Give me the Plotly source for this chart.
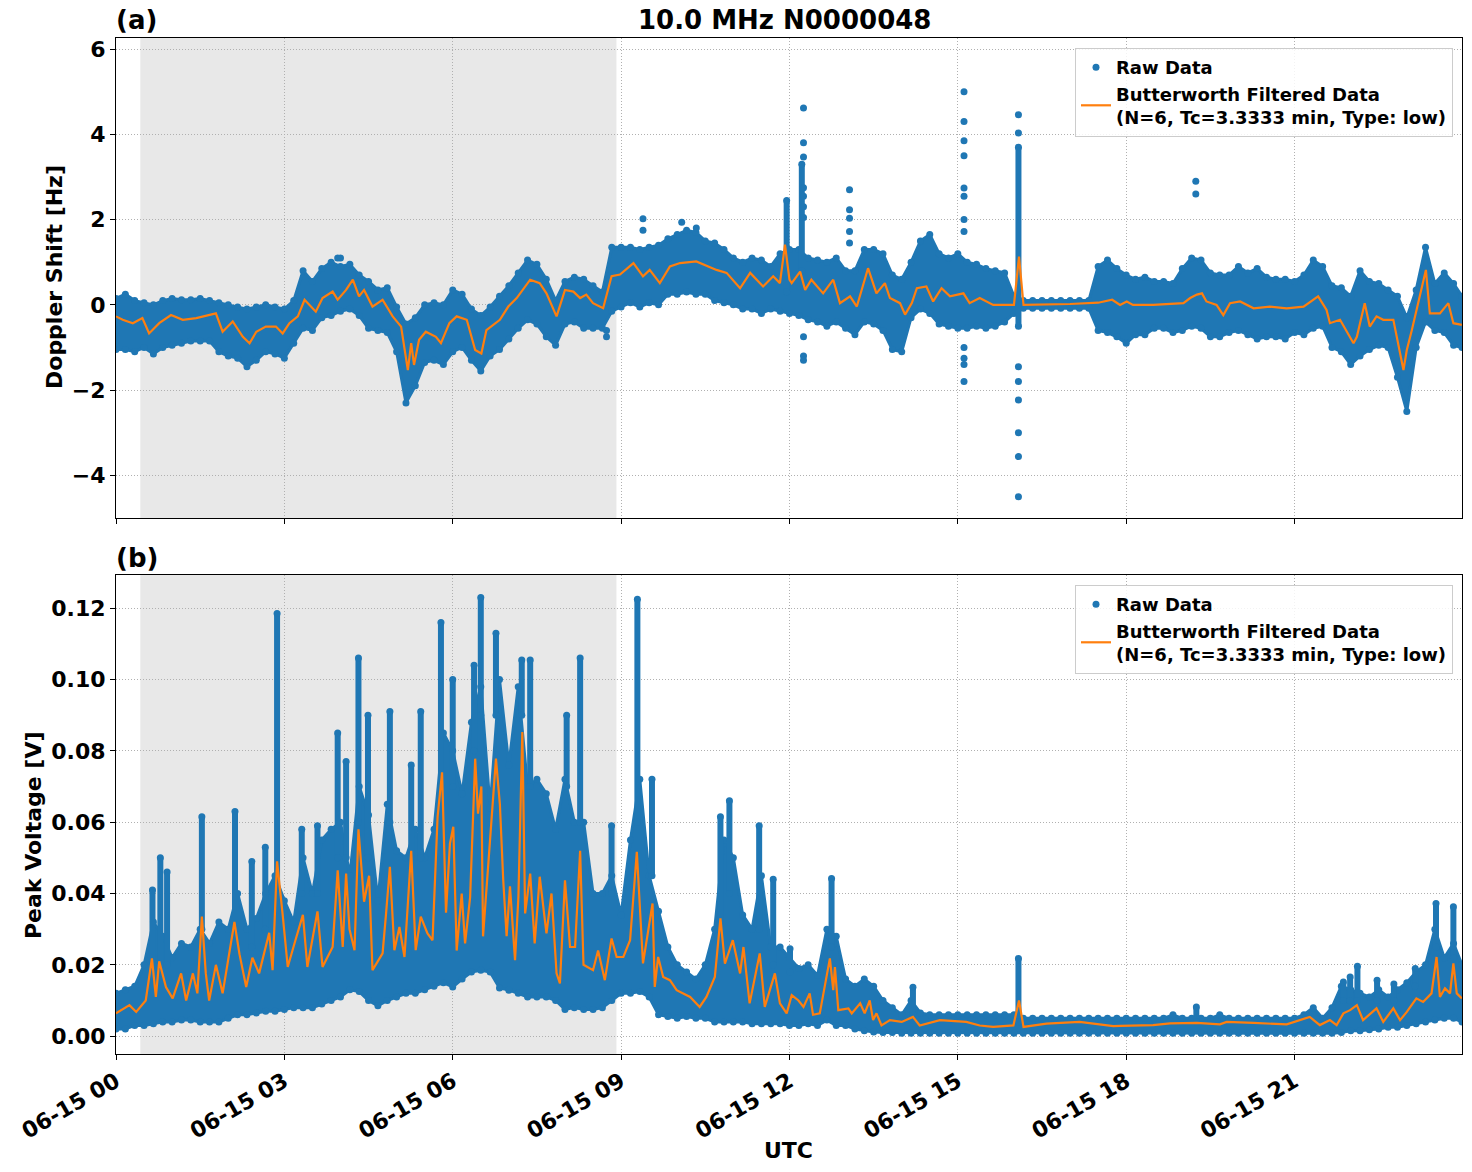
import numpy as np
import pandas as pd
import plotly.graph_objects as go

# ---------------- data ----------------
DATE = "2024-06-15"
TITLE = "10.0 MHz N0000048"
SHADE_START = "2024-06-15 00:26"
SHADE_END = "2024-06-15 08:55"
X_END = "2024-06-15 23:59"

# 10-minute sampling grid for the envelope of the raw data
band_times = list(pd.date_range(DATE, periods=144, freq="10min")) + [pd.Timestamp(X_END)]

# ---- panel (a): Doppler shift [Hz]
a_hi = [0.15, 0.25, 0.10, 0.05, 0.00, 0.10, 0.15, 0.12, 0.12, 0.15, 0.10, 0.05,
        0.00, -0.05, -0.10, -0.05, 0.00, -0.05, -0.10, 0.10, 0.80, 0.55, 0.85, 1.00,
        0.90, 0.95, 0.70, 0.55, 0.35, 0.40, -0.05, -0.45, -0.30, 0.00, 0.05, 0.00,
        0.35, 0.25, -0.10, -0.25, -0.05, 0.20, 0.45, 0.75, 1.05, 0.95, 0.60, 0.10,
        0.55, 0.65, 0.60, 0.45, 0.30, 1.35, 1.35, 1.35, 1.30, 1.35, 1.40, 1.55,
        1.65, 1.75, 1.70, 1.50, 1.45, 1.30, 1.10, 1.00, 1.10, 1.05, 0.90, 1.20,
        1.30, 1.30, 1.10, 1.05, 1.00, 1.10, 0.80, 0.80, 1.30, 1.30, 1.20, 0.70,
        0.60, 1.00, 1.50, 1.65, 1.20, 1.10, 1.20, 1.00, 0.95, 0.85, 0.80, 0.75,
        0.20, 0.10, 0.10, 0.10, 0.10, 0.10, 0.10, 0.10, 0.10, 0.90, 1.05, 0.85,
        0.70, 0.60, 0.65, 0.55, 0.55, 0.50, 0.85, 1.10, 1.05, 0.75, 0.70, 0.70,
        0.90, 0.75, 0.85, 0.65, 0.60, 0.60, 0.55, 0.70, 1.05, 0.90, 0.45, 0.40,
        0.20, 0.80, 0.55, 0.50, 0.35, 0.20, -0.30, 0.35, 1.35, 0.50, 0.75, 0.50,
        0.20]
a_lo = [-1.05, -1.05, -1.10, -1.00, -1.15, -1.00, -0.95, -0.90, -0.85, -0.85, -0.85, -1.10,
        -1.20, -1.25, -1.45, -1.30, -1.10, -1.15, -1.25, -0.90, -0.55, -0.60, -0.30, -0.25,
        -0.15, -0.10, -0.25, -0.55, -0.60, -0.65, -1.10, -2.30, -1.90, -1.35, -1.30, -1.40,
        -1.10, -1.00, -1.30, -1.55, -1.20, -1.05, -0.80, -0.55, -0.35, -0.45, -0.75, -0.95,
        -0.45, -0.40, -0.55, -0.55, -0.55, -0.15, -0.05, 0.05, -0.05, 0.05, 0.00, 0.25,
        0.25, 0.30, 0.25, 0.25, 0.10, 0.05, 0.00, -0.10, -0.10, -0.20, -0.10, -0.15,
        -0.20, -0.25, -0.35, -0.40, -0.50, -0.40, -0.55, -0.70, -0.40, -0.45, -0.60, -1.05,
        -1.10, -0.30, -0.10, -0.20, -0.45, -0.50, -0.55, -0.55, -0.50, -0.55, -0.50, -0.40,
        -0.20, -0.08, -0.08, -0.08, -0.08, -0.08, -0.08, -0.08, -0.08, -0.60, -0.65, -0.75,
        -0.90, -0.70, -0.70, -0.55, -0.55, -0.65, -0.60, -0.50, -0.55, -0.75, -0.75, -0.65,
        -0.60, -0.70, -0.80, -0.75, -0.75, -0.80, -0.65, -0.70, -0.55, -0.50, -1.00, -1.10,
        -1.40, -1.20, -1.05, -0.95, -1.00, -1.70, -2.50, -1.00, -0.40, -0.60, -0.65, -0.95,
        -1.00]
# dense vertical columns of raw points: hour, bottom, top
a_spike_h = [11.95, 12.22, 16.08]
a_spike_lo = [0.30, 0.80, -0.50]
a_spike_hi = [2.45, 3.30, 3.70]
# isolated raw points: hour, value
a_out_h = [12.25, 12.25, 12.25, 12.25, 12.25, 12.25, 12.25, 12.25, 12.25, 12.25,
           13.07, 13.07, 13.07, 13.07, 13.07,
           15.11, 15.11, 15.11, 15.11, 15.11, 15.11, 15.11, 15.11, 15.11, 15.11, 15.11, 15.11,
           16.08, 16.08, 16.08, 16.08, 16.08, 16.08, 16.08, 16.08,
           19.24, 19.24, 9.39, 9.39, 10.08, 10.34, 3.95, 4.00, 8.74, 8.74]
a_out_v = [4.62, 3.80, 3.47, 2.75, 2.55, 2.30, 2.05, -0.75, -1.20, -1.30,
           2.70, 2.23, 2.03, 1.72, 1.45,
           5.00, 4.30, 3.85, 3.50, 2.74, 2.55, 2.00, 1.72, -1.00, -1.25, -1.40, -1.80,
           4.46, 4.03, -1.45, -1.80, -2.23, -3.00, -3.56, -4.50,
           2.90, 2.60, 2.02, 1.75, 1.94, 1.80, 1.10, 1.10, -0.75, -0.60]
# Butterworth filtered curve: hour, value
a_filt_h = [0.00, 0.12, 0.30, 0.47, 0.59, 0.77, 0.98, 1.19, 1.43, 1.57, 1.78, 1.90, 2.08,
            2.26, 2.38, 2.50, 2.67, 2.85, 2.97, 3.09, 3.24, 3.36, 3.56, 3.68, 3.86, 3.95,
            4.10, 4.22, 4.33, 4.42, 4.57, 4.75, 4.93, 5.08, 5.20, 5.26, 5.31, 5.40, 5.52,
            5.70, 5.79, 5.94, 6.07, 6.25, 6.40, 6.51, 6.60, 6.84, 6.99, 7.14, 7.38, 7.55,
            7.67, 7.85, 8.00, 8.15, 8.27, 8.38, 8.50, 8.68, 8.83, 8.98, 9.22, 9.39, 9.51,
            9.69, 9.87, 10.05, 10.34, 10.70, 10.88, 11.12, 11.30, 11.53, 11.71, 11.83,
            11.92, 12.00, 12.04, 12.19, 12.28, 12.39, 12.60, 12.78, 12.90, 13.08, 13.20,
            13.40, 13.55, 13.70, 13.79, 13.97, 14.06, 14.18, 14.27, 14.44, 14.56, 14.71,
            14.86, 15.10, 15.21, 15.39, 15.63, 16.00, 16.09, 16.17, 17.00, 17.50, 17.75,
            17.89, 18.01, 18.12, 18.48, 19.02, 19.14, 19.26, 19.35, 19.43, 19.61, 19.73,
            19.85, 20.03, 20.27, 20.56, 20.86, 21.16, 21.42, 21.57, 21.63, 21.81, 22.05,
            22.11, 22.25, 22.34, 22.46, 22.58, 22.76, 22.94, 23.00, 23.09, 23.24, 23.34,
            23.41, 23.59, 23.74, 23.83, 23.98]
a_filt_v = [-0.27, -0.35, -0.43, -0.31, -0.67, -0.43, -0.24, -0.35, -0.31, -0.27, -0.20, -0.63, -0.39,
            -0.75, -0.90, -0.63, -0.51, -0.51, -0.67, -0.43, -0.27, 0.12, -0.16, 0.16, 0.31, 0.12,
            0.35, 0.59, 0.20, 0.35, -0.04, 0.12, -0.27, -0.51, -1.53, -0.90, -1.41, -0.82, -0.63,
            -0.75, -0.90, -0.43, -0.27, -0.35, -1.06, -1.14, -0.59, -0.35, -0.04, 0.16, 0.59, 0.51,
            0.27, -0.27, 0.35, 0.31, 0.16, 0.24, 0.04, -0.08, 0.67, 0.71, 0.98, 0.67, 0.82,
            0.51, 0.90, 0.98, 1.02, 0.82, 0.75, 0.39, 0.75, 0.43, 0.67, 0.51,
            1.41, 0.59, 0.51, 0.78, 0.35, 0.59, 0.27, 0.59, 0.04, 0.20, -0.04,
            0.86, 0.27, 0.51, 0.16, 0.04, -0.23, 0.04, 0.39, 0.43, 0.08, 0.39,
            0.20, 0.27, 0.04, 0.16, 0.00, 0.00, 1.13, 0.00, 0.02, 0.05, 0.12,
            0.00, 0.08, 0.00, 0.00, 0.04, 0.16, 0.24, 0.27, 0.08, 0.00, -0.24,
            0.04, 0.08, -0.08, -0.04, -0.08, -0.04, 0.20, -0.12, -0.43, -0.35, -0.90,
            -0.75, 0.04, -0.51, -0.27, -0.35, -0.35, -1.53, -1.06, -0.59, 0.27, 0.82,
            -0.20, -0.20, 0.04, -0.43, -0.47]

# ---- panel (b): peak voltage [V]
b_hi = [0.012, 0.013, 0.014, 0.020, 0.032, 0.028, 0.022, 0.026, 0.025, 0.030, 0.026, 0.032,
        0.030, 0.040, 0.030, 0.033, 0.040, 0.045, 0.038, 0.032, 0.050, 0.040, 0.055, 0.058,
        0.060, 0.045, 0.070, 0.062, 0.038, 0.065, 0.052, 0.050, 0.058, 0.050, 0.058, 0.085,
        0.080, 0.068, 0.088, 0.098, 0.064, 0.100, 0.076, 0.098, 0.070, 0.072, 0.068, 0.058,
        0.072, 0.060, 0.060, 0.040, 0.040, 0.045, 0.034, 0.055, 0.072, 0.045, 0.035, 0.025,
        0.020, 0.018, 0.016, 0.020, 0.030, 0.055, 0.050, 0.034, 0.030, 0.045, 0.025, 0.025,
        0.022, 0.019, 0.020, 0.017, 0.030, 0.028, 0.016, 0.014, 0.016, 0.014, 0.010, 0.008,
        0.006, 0.010, 0.0065, 0.006, 0.006, 0.006, 0.006, 0.006, 0.006, 0.006, 0.006, 0.006,
        0.006, 0.005, 0.005, 0.005, 0.005, 0.005, 0.005, 0.005, 0.005, 0.005, 0.005, 0.005,
        0.005, 0.005, 0.005, 0.005, 0.005, 0.006, 0.005, 0.005, 0.005, 0.005, 0.006, 0.005,
        0.005, 0.005, 0.005, 0.005, 0.005, 0.005, 0.005, 0.006, 0.008, 0.005, 0.008, 0.014,
        0.013, 0.012, 0.011, 0.013, 0.011, 0.013, 0.015, 0.018, 0.020, 0.030, 0.022, 0.026,
        0.020]
b_lo = [0.002, 0.002, 0.003, 0.003, 0.0035, 0.004, 0.004, 0.0045, 0.0045, 0.004, 0.004, 0.004,
        0.005, 0.006, 0.006, 0.0065, 0.007, 0.007, 0.0075, 0.008, 0.008, 0.008, 0.009, 0.010,
        0.011, 0.013, 0.0125, 0.010, 0.0085, 0.010, 0.011, 0.012, 0.012, 0.013, 0.014, 0.015,
        0.0138, 0.016, 0.018, 0.0185, 0.018, 0.0135, 0.0129, 0.012, 0.011, 0.011, 0.011, 0.010,
        0.0075, 0.008, 0.0075, 0.0075, 0.008, 0.010, 0.012, 0.012, 0.0125, 0.011, 0.006, 0.0055,
        0.005, 0.0055, 0.005, 0.005, 0.004, 0.004, 0.004, 0.004, 0.0035, 0.0035, 0.0035, 0.0035,
        0.003, 0.003, 0.0035, 0.003, 0.0045, 0.003, 0.003, 0.002, 0.0015, 0.0012, 0.001, 0.001,
        0.0008, 0.0008, 0.0008, 0.0008, 0.0008, 0.0008, 0.0008, 0.0008, 0.0008, 0.0008, 0.0008, 0.0008,
        0.0008, 0.0008, 0.0008, 0.0008, 0.0008, 0.0008, 0.0008, 0.0008, 0.0008, 0.0008, 0.0008, 0.0008,
        0.0008, 0.0008, 0.0008, 0.0008, 0.0008, 0.0008, 0.0008, 0.0008, 0.0008, 0.0008, 0.0008, 0.0008,
        0.0008, 0.0008, 0.0008, 0.0008, 0.0008, 0.0008, 0.0008, 0.0008, 0.0008, 0.0008, 0.0008, 0.001,
        0.0015, 0.0015, 0.0018, 0.002, 0.0025, 0.0025, 0.003, 0.0035, 0.004, 0.0045, 0.005, 0.005,
        0.004]
b_spike_h = [0.65, 0.79, 0.91, 1.53, 2.12, 2.42, 2.66, 2.87, 3.31, 3.59, 3.95, 4.10, 4.32,
             4.49, 4.88, 5.26, 5.43, 5.79, 6.00, 6.38, 6.50, 6.77, 7.23, 7.38, 8.03, 8.27,
             8.83, 9.29, 9.55, 10.77, 10.93, 11.46, 11.71, 12.01, 12.75, 14.20, 16.08,
             19.25, 21.87, 21.99, 22.12, 22.47, 22.77, 23.15, 23.52, 23.83]
b_spike_lo = [0.020, 0.020, 0.020, 0.030, 0.030, 0.025, 0.030, 0.040, 0.040, 0.040, 0.050, 0.050, 0.060,
              0.050, 0.060, 0.050, 0.050, 0.070, 0.070, 0.080, 0.090, 0.090, 0.090, 0.070, 0.070, 0.060,
              0.040, 0.060, 0.045, 0.030, 0.040, 0.030, 0.020, 0.018, 0.025, 0.006, 0.004,
              0.004, 0.010, 0.010, 0.010, 0.010, 0.010, 0.014, 0.025, 0.022]
b_spike_hi = [0.041, 0.050, 0.046, 0.0615, 0.063, 0.049, 0.053, 0.1185, 0.058, 0.059, 0.085, 0.077, 0.106,
              0.090, 0.091, 0.076, 0.091, 0.116, 0.100, 0.104, 0.123, 0.113, 0.1055, 0.1055, 0.090, 0.106,
              0.059, 0.1225, 0.072, 0.0615, 0.066, 0.059, 0.044, 0.0245, 0.0442, 0.0137, 0.0218,
              0.0082, 0.0152, 0.0166, 0.0196, 0.0157, 0.0146, 0.019, 0.0372, 0.0363]
b_filt_h = [0.00, 0.24, 0.36, 0.53, 0.64, 0.71, 0.77, 0.89, 1.01, 1.16, 1.25, 1.37, 1.45, 1.53,
            1.60, 1.66, 1.78, 1.90, 2.11, 2.20, 2.32, 2.43, 2.55, 2.73, 2.79, 2.87, 2.97, 3.06,
            3.18, 3.33, 3.41, 3.59, 3.68, 3.86, 3.95, 4.04, 4.10, 4.16, 4.25, 4.32, 4.42, 4.51,
            4.57, 4.75, 4.81, 4.88, 4.96, 5.05, 5.14, 5.26, 5.34, 5.43, 5.55, 5.64, 5.73, 5.81,
            5.88, 5.95, 6.01, 6.07, 6.16, 6.22, 6.31, 6.40, 6.45, 6.51, 6.54, 6.66, 6.77, 6.84,
            6.90, 6.96, 7.02, 7.11, 7.17, 7.24, 7.29, 7.38, 7.46, 7.55, 7.67, 7.76, 7.85, 7.91,
            8.00, 8.09, 8.18, 8.27, 8.33, 8.50, 8.59, 8.71, 8.83, 8.92, 9.04, 9.16, 9.28, 9.39,
            9.56, 9.60, 9.66, 9.75, 9.87, 9.99, 10.23, 10.40, 10.52, 10.67, 10.77, 10.85, 10.99,
            11.12, 11.18, 11.29, 11.47, 11.56, 11.74, 11.83, 11.95, 12.04, 12.16, 12.25, 12.36,
            12.42, 12.54, 12.72, 12.78, 12.81, 12.87, 13.05, 13.11, 13.26, 13.34, 13.43, 13.49,
            13.55, 13.64, 13.79, 14.00, 14.20, 14.32, 14.68, 15.15, 15.39, 15.63, 15.99, 16.09,
            16.17, 16.58, 17.17, 17.77, 17.89, 18.48, 18.78, 19.26, 19.67, 19.79, 20.27, 20.86,
            21.27, 21.45, 21.63, 21.75, 21.87, 21.99, 22.11, 22.22, 22.46, 22.58, 22.76, 22.88,
            23.00, 23.17, 23.29, 23.44, 23.53, 23.59, 23.68, 23.77, 23.83, 23.89, 23.98]
b_filt_v = [0.0064, 0.0087, 0.0068, 0.0100, 0.0218, 0.0110, 0.0210, 0.0138, 0.0106, 0.0176, 0.0100, 0.0176, 0.0120, 0.0335,
            0.0176, 0.0100, 0.0200, 0.0120, 0.0320, 0.0230, 0.0138, 0.0220, 0.0176, 0.0290, 0.0185, 0.0490, 0.0340, 0.0194,
            0.0260, 0.0340, 0.0194, 0.0350, 0.0194, 0.0250, 0.0465, 0.0250, 0.0456, 0.0300, 0.0241, 0.0580, 0.0377, 0.0450,
            0.0185, 0.0232, 0.0340, 0.0475, 0.0241, 0.0306, 0.0222, 0.0520, 0.0241, 0.0335, 0.0288, 0.0269, 0.0615, 0.0740,
            0.0346, 0.0540, 0.0587, 0.0240, 0.0400, 0.0260, 0.0390, 0.0778, 0.0624, 0.0700, 0.0280, 0.0540, 0.0778, 0.0650,
            0.0437, 0.0280, 0.0420, 0.0213, 0.0390, 0.0853, 0.0344, 0.0456, 0.0260, 0.0447, 0.0288, 0.0400, 0.0176, 0.0148,
            0.0437, 0.0250, 0.0250, 0.0520, 0.0200, 0.0185, 0.0240, 0.0157, 0.0274, 0.0222, 0.0222, 0.0269, 0.0517, 0.0204,
            0.0372, 0.0138, 0.0222, 0.0166, 0.0157, 0.0129, 0.0110, 0.0082, 0.0110, 0.0166, 0.0330, 0.0203, 0.0269,
            0.0176, 0.0250, 0.0092, 0.0232, 0.0082, 0.0176, 0.0092, 0.0064, 0.0115, 0.0100, 0.0082, 0.0120,
            0.0060, 0.0064, 0.0218, 0.0129, 0.0194, 0.0073, 0.0078, 0.0064, 0.0092, 0.0064, 0.0100, 0.0045,
            0.0064, 0.0030, 0.0045, 0.0040, 0.0054, 0.0030, 0.0045, 0.0040, 0.0030, 0.0026, 0.0030, 0.0100,
            0.0026, 0.0035, 0.0040, 0.0028, 0.0029, 0.0031, 0.0036, 0.0037, 0.0033, 0.0040, 0.0037, 0.0033,
            0.0054, 0.0031, 0.0045, 0.0031, 0.0064, 0.0073, 0.0087, 0.0045, 0.0078, 0.0040, 0.0078, 0.0045,
            0.0068, 0.0106, 0.0096, 0.0120, 0.0222, 0.0110, 0.0134, 0.0120, 0.0204, 0.0120, 0.0106]

# ---------------- styling ----------------
BLUE = "#1f77b4"
ORANGE = "#ff7f0e"
FONT = "DejaVu Sans"
W, H = 1472, 1172
X_DOM = [116 / W, 1462 / W]
YA_DOM = [1 - 518 / H, 1 - 38 / H]
YB_DOM = [1 - 1054 / H, 1 - 575 / H]


def hours_to_time(h):
    return list(pd.Timestamp(DATE) + pd.to_timedelta(np.asarray(h, dtype=float), unit="h"))


def segments(hs, lo, hi):
    xs, ys = [], []
    for t, a, b in zip(hours_to_time(hs), lo, hi):
        xs += [t, t, None]
        ys += [a, b, None]
    return xs, ys


fig = go.Figure()
dot = dict(color=BLUE, size=7, line=dict(width=0))


def add_panel(xa, ya, legend, hi, lo, sp_h, sp_lo, sp_hi, out_h, out_v, f_h, f_v):
    # raw data envelope
    fig.add_trace(go.Scatter(
        x=band_times + band_times[::-1], y=list(hi) + list(lo)[::-1],
        fill="toself", fillcolor=BLUE, mode="lines",
        line=dict(color=BLUE, width=3), hoverinfo="skip",
        showlegend=False, xaxis=xa, yaxis=ya))
    # raw points on the envelope edges
    fig.add_trace(go.Scatter(x=band_times + band_times, y=list(hi) + list(lo),
                             mode="markers", marker=dot, showlegend=False,
                             hoverinfo="skip", xaxis=xa, yaxis=ya))
    # dense columns of raw points
    sx, sy = segments(sp_h, sp_lo, sp_hi)
    fig.add_trace(go.Scatter(x=sx, y=sy, mode="lines", line=dict(color=BLUE, width=6),
                             showlegend=False, hoverinfo="skip", xaxis=xa, yaxis=ya))
    fig.add_trace(go.Scatter(x=hours_to_time(sp_h) * 2, y=list(sp_hi) + list(sp_lo),
                             mode="markers", marker=dot,
                             showlegend=False, hoverinfo="skip", xaxis=xa, yaxis=ya))
    if out_h:
        fig.add_trace(go.Scatter(x=hours_to_time(out_h), y=out_v, mode="markers",
                                 marker=dot, showlegend=False, hoverinfo="skip",
                                 xaxis=xa, yaxis=ya))
    # legend entries
    fig.add_trace(go.Scatter(x=[None], y=[None], mode="markers", name="Raw Data",
                             marker=dict(color=BLUE, size=7), legend=legend,
                             xaxis=xa, yaxis=ya))
    fig.add_trace(go.Scatter(x=hours_to_time(f_h), y=f_v, mode="lines",
                             name="Butterworth Filtered Data<br>(N=6, Tc=3.3333 min, Type: low)",
                             line=dict(color=ORANGE, width=2.2), legend=legend,
                             xaxis=xa, yaxis=ya))


add_panel("x", "y", "legend", a_hi, a_lo, a_spike_h, a_spike_lo, a_spike_hi,
          a_out_h, a_out_v, a_filt_h, a_filt_v)
add_panel("x2", "y2", "legend2", b_hi, b_lo, b_spike_h, b_spike_lo, b_spike_hi,
          [], [], b_filt_h, b_filt_v)

tickfont = dict(family=FONT, size=22, color="black", weight="bold")
axis_common = dict(
    showline=True, linecolor="black", linewidth=1.2, mirror=True,
    ticks="outside", ticklen=5, tickwidth=1.2, tickcolor="black",
    showgrid=True, gridcolor="#b0b0b0", griddash="1px,2px", gridwidth=1,
    zeroline=False, tickfont=tickfont, automargin=False,
)
xcommon = dict(axis_common, type="date", domain=X_DOM,
               range=[pd.Timestamp(DATE), pd.Timestamp(X_END)],
               tick0=DATE, dtick=3 * 3600 * 1000, tickformat="%m-%d %H")

legend_common = dict(xanchor="right", yanchor="top",
                     bgcolor="rgba(255,255,255,0.85)", bordercolor="#cccccc", borderwidth=1,
                     font=dict(family=FONT, size=18, color="black", weight="bold"),
                     tracegroupgap=2)

fig.update_layout(
    width=W, height=H,
    margin=dict(l=0, r=0, t=0, b=0),
    paper_bgcolor="white", plot_bgcolor="white",
    font=dict(family=FONT, color="black"),
    xaxis=dict(xcommon, anchor="y", showticklabels=False),
    xaxis2=dict(xcommon, anchor="y2", tickangle=-30),
    yaxis=dict(axis_common, domain=YA_DOM, anchor="x", range=[-5.0, 6.26],
               tickvals=[-4, -2, 0, 2, 4, 6]),
    yaxis2=dict(axis_common, domain=YB_DOM, anchor="x2", range=[-0.005, 0.1293],
                tickvals=[0, 0.02, 0.04, 0.06, 0.08, 0.10, 0.12], tickformat=".2f"),
    legend=dict(legend_common, x=1453 / W, y=1 - 48 / H),
    legend2=dict(legend_common, x=1453 / W, y=1 - 585 / H),
    showlegend=True,
)

for xr, yref in [("x", "y domain"), ("x2", "y2 domain")]:
    fig.add_shape(type="rect", xref=xr, yref=yref,
                  x0=SHADE_START, x1=SHADE_END, y0=0, y1=1,
                  fillcolor="#e8e8e8", line=dict(width=0), layer="below")

title_font = dict(family=FONT, size=26, color="black", weight="bold")
label_font = dict(family=FONT, size=22, color="black", weight="bold")
annots = [
    dict(text=TITLE, x=784 / W, y=1 - 20 / H, xanchor="center", yanchor="middle", font=title_font),
    dict(text="(a)", x=114 / W, y=1 - 20 / H, xanchor="left", yanchor="middle", font=title_font),
    dict(text="(b)", x=114 / W, y=1 - 558 / H, xanchor="left", yanchor="middle", font=title_font),
    dict(text="Doppler Shift [Hz]", x=54 / W, y=1 - 277 / H, xanchor="center", yanchor="middle",
         textangle=-90, font=label_font),
    dict(text="Peak Voltage [V]", x=33 / W, y=1 - 835 / H, xanchor="center", yanchor="middle",
         textangle=-90, font=label_font),
    dict(text="UTC", x=789 / W, y=1 - 1150 / H, xanchor="center", yanchor="middle", font=label_font),
]
for a in annots:
    fig.add_annotation(xref="paper", yref="paper", showarrow=False, **a)

fig.write_html("out.html")
